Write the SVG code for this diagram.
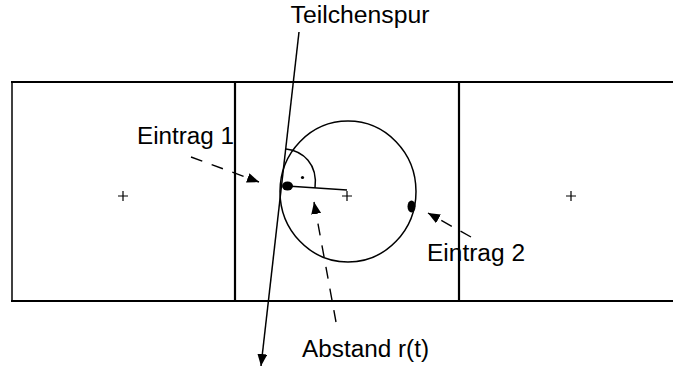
<svg xmlns="http://www.w3.org/2000/svg" width="673" height="368" viewBox="0 0 673 368">
<defs>
<style>
.ln{stroke:#000;fill:none;stroke-width:1.5}
.thick{stroke:#000;fill:none;stroke-width:2.2}
.dash{stroke:#000;fill:none;stroke-width:1.4;stroke-dasharray:12 10}
.txt{font-family:"Liberation Sans",Arial,sans-serif;font-size:23px;fill:#000}
</style>
<marker id="ah" viewBox="0 0 12 10" refX="12" refY="5" markerWidth="12" markerHeight="10" markerUnits="userSpaceOnUse" orient="auto">
<path d="M0,0 L12,5 L0,10 Z" fill="#000"/>
</marker>
</defs>
<rect width="673" height="368" fill="#fff"/>
<g id="frame">
<line class="ln" x1="12" y1="82" x2="12" y2="301"/>
<line class="thick" x1="11" y1="82" x2="673" y2="82"/>
<line class="thick" x1="11" y1="301" x2="673" y2="301"/>
<line class="thick" x1="235" y1="82" x2="235" y2="301"/>
<line class="thick" x1="459" y1="82" x2="459" y2="301"/>
</g>
<g id="plus-left"><path class="ln" d="M118,196 H128 M123,191 V201" style="stroke-width:1.2"/></g>
<g id="plus-mid"><path class="ln" d="M342,196 H352 M347,191 V201" style="stroke-width:1.2"/></g>
<g id="plus-right"><path class="ln" d="M566,196 H576 M571,191 V201" style="stroke-width:1.2"/></g>
<g id="circle"><ellipse class="ln" cx="348" cy="191.5" rx="68" ry="70.5"/></g>
<g id="radius"><line class="ln" x1="287" y1="186" x2="347" y2="190"/></g>
<g id="right-angle">
<path class="ln" d="M286,149 C303,151 318,164 315,188"/>
<circle cx="302.5" cy="177.5" r="1.6" fill="#000"/>
</g>
<g id="entry1-dot"><ellipse cx="287.5" cy="186" rx="5.5" ry="4.5" fill="#000"/></g>
<g id="entry2-dot"><ellipse cx="411.5" cy="206.5" rx="4" ry="6" fill="#000"/></g>
<g id="connectors">
<line class="ln" x1="299" y1="32" x2="261" y2="366" marker-end="url(#ah)"/>
<line class="dash" x1="191" y1="157" x2="259" y2="182" marker-end="url(#ah)"/>
<line class="dash" x1="336" y1="322" x2="314" y2="202" marker-end="url(#ah)"/>
<line class="dash" x1="471" y1="237" x2="428" y2="213" marker-end="url(#ah)"/>
</g>
<g id="labels">
<text class="txt" x="290.5" y="23" textLength="139" lengthAdjust="spacingAndGlyphs">Teilchenspur</text>
<text class="txt" x="137" y="143.5" textLength="97" lengthAdjust="spacingAndGlyphs">Eintrag 1</text>
<text class="txt" x="427" y="261" textLength="98" lengthAdjust="spacingAndGlyphs">Eintrag 2</text>
<text class="txt" x="302" y="356.5" textLength="127" lengthAdjust="spacingAndGlyphs">Abstand r(t)</text>
</g>
</svg>
